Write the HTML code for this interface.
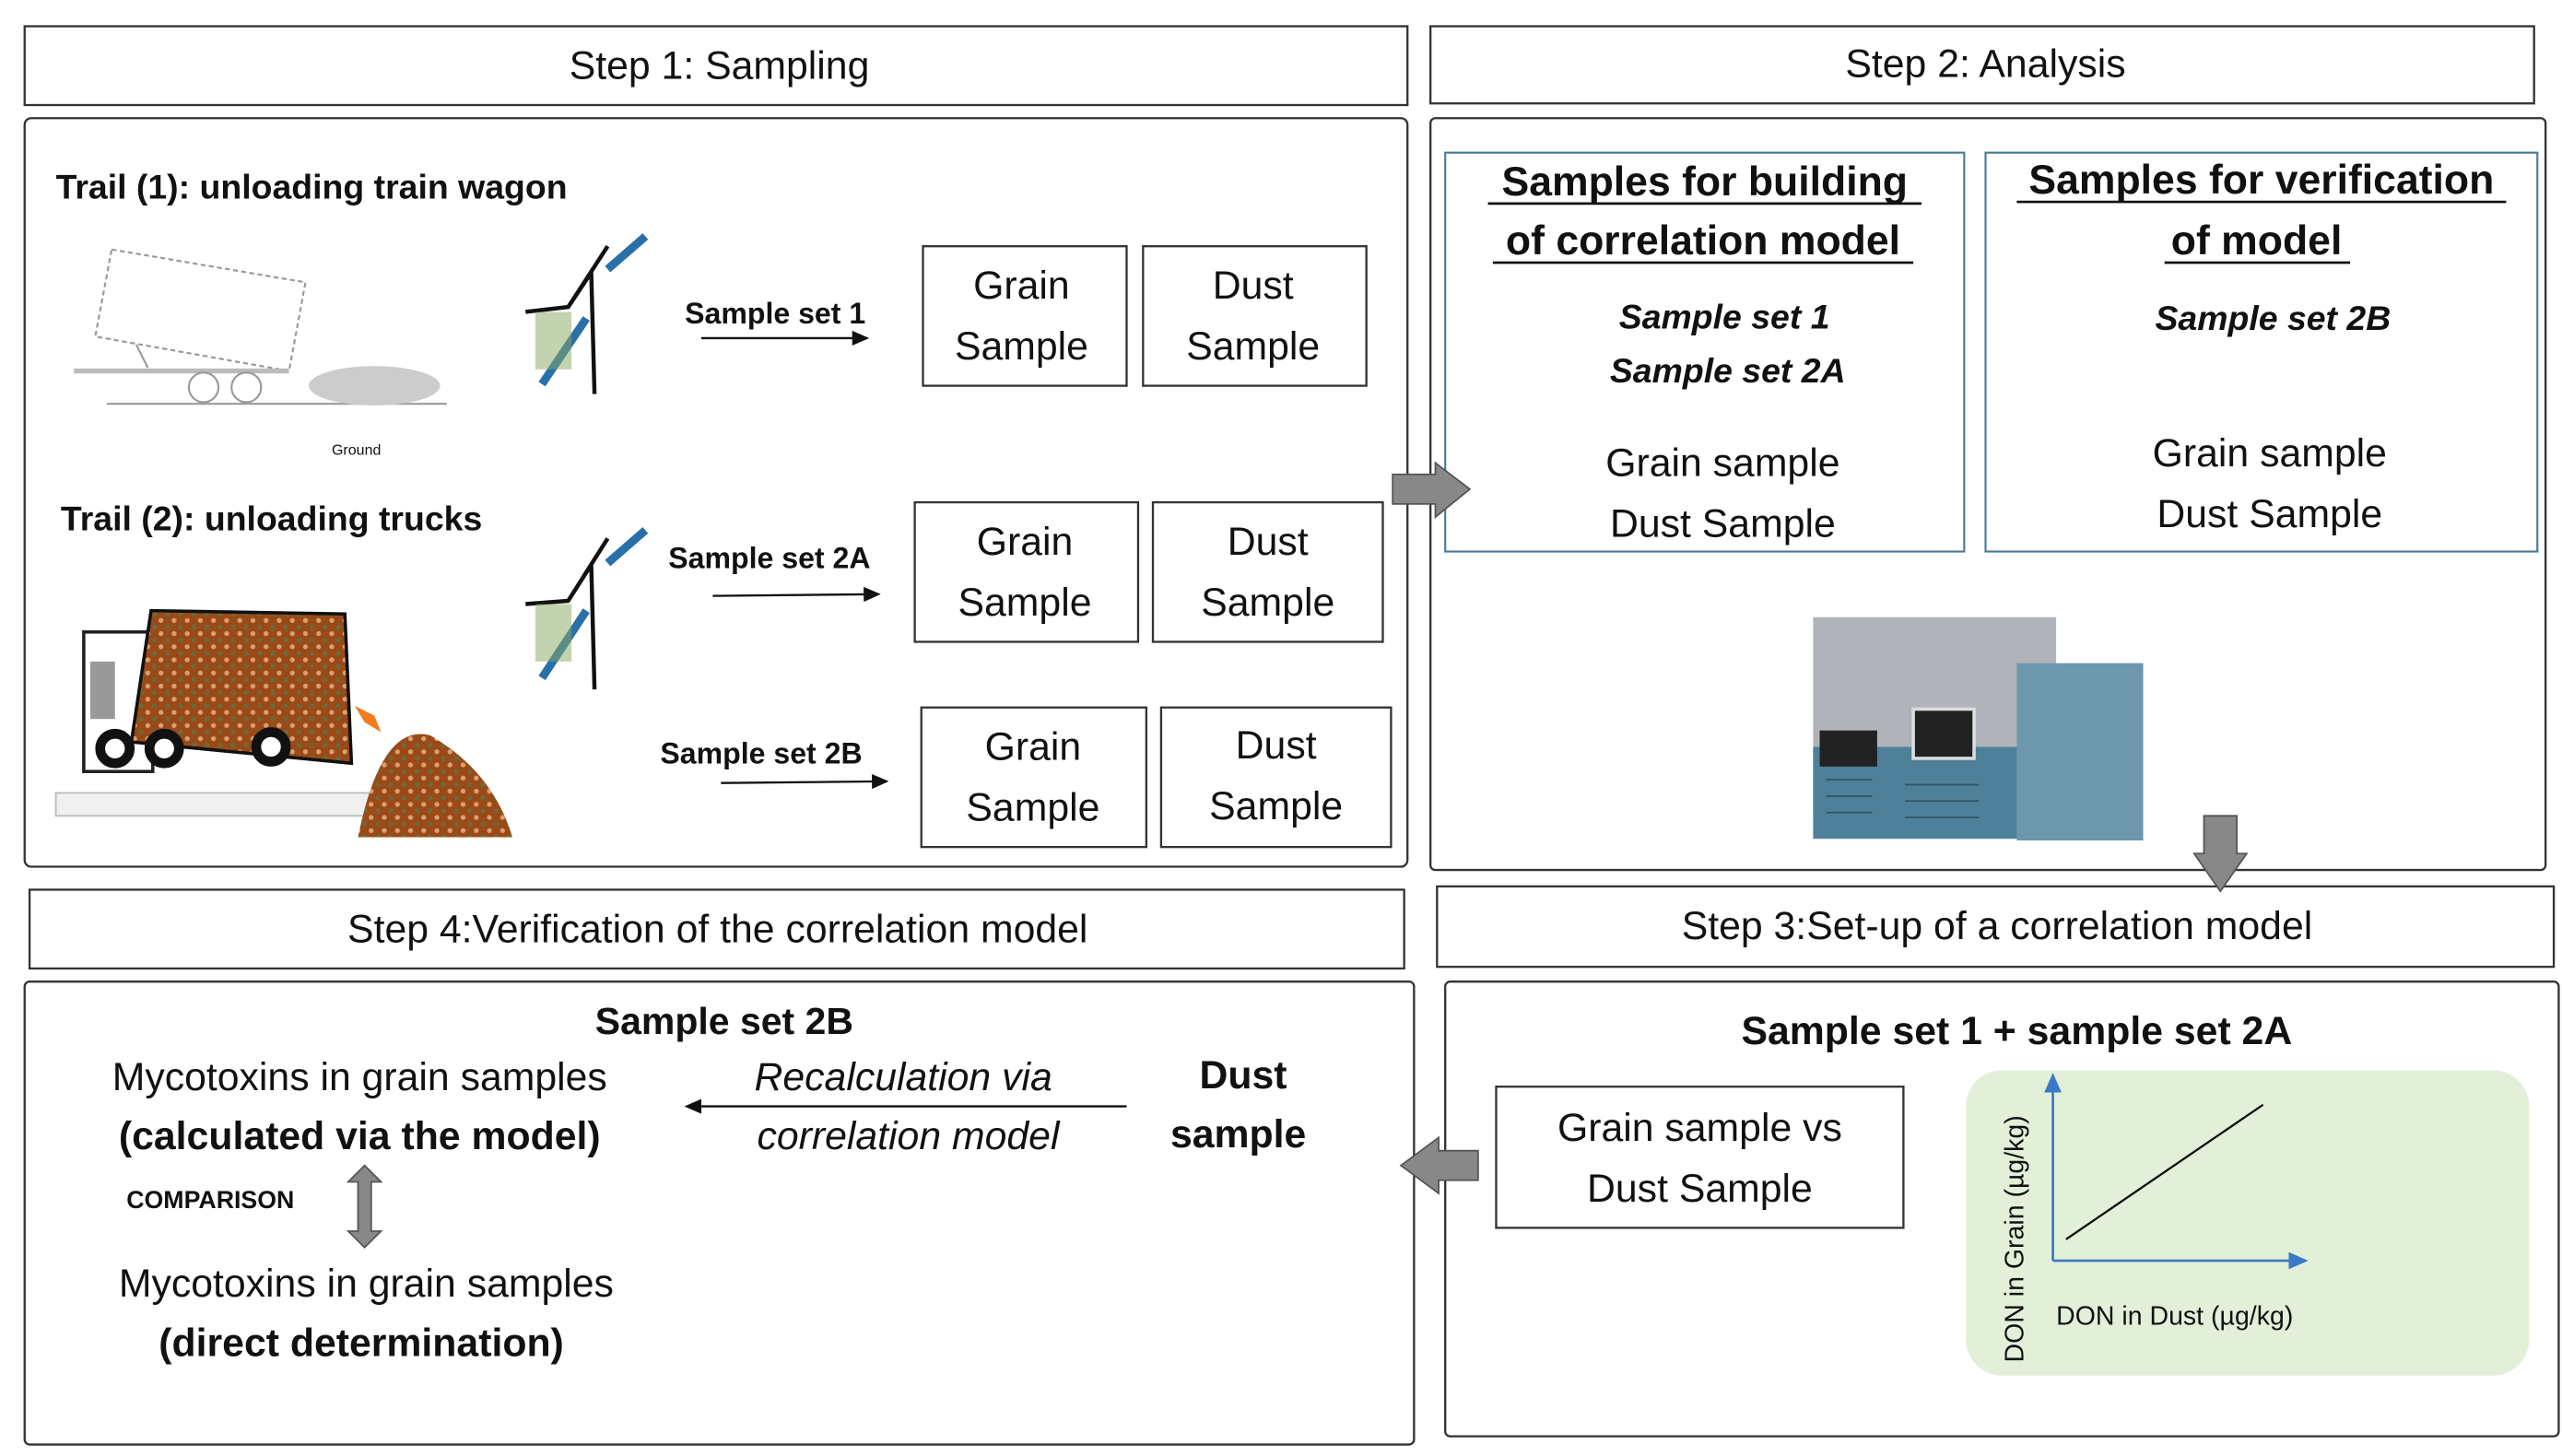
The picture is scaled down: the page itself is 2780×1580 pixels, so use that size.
<!DOCTYPE html>
<html><head><meta charset="utf-8"><style>
html,body{margin:0;padding:0;background:#fff;width:2780px;height:1580px;overflow:hidden}
svg{display:block}
text{font-family:"Liberation Sans",sans-serif;fill:#111}
.h{font-size:24px}
.b{font-weight:bold}
</style></head><body>
<svg width="2780" height="1580" viewBox="0 0 1560 887" preserveAspectRatio="none">
<defs>
<marker id="ah" markerWidth="8" markerHeight="8" refX="7" refY="4" orient="auto"><path d="M0,0.5 L8,4 L0,7.5z" fill="#111"/></marker>
<marker id="ab" markerWidth="8" markerHeight="8" refX="7" refY="4" orient="auto"><path d="M0,0.5 L8,4 L0,7.5z" fill="#3a78c8"/></marker>
<pattern id="gr" width="8" height="8" patternUnits="userSpaceOnUse"><rect width="8" height="8" fill="#9a4a18"/><circle cx="2" cy="2" r="1.5" fill="#d9a070"/><circle cx="6" cy="6" r="1.5" fill="#6b6b3a"/></pattern>
</defs>
<g fill="none" stroke="#333" stroke-width="1.3">
<rect x="15" y="16" width="842" height="48"/>
<rect x="871" y="16" width="672" height="47"/>
<rect x="15" y="72" width="842" height="456" rx="4"/>
<rect x="871" y="72" width="679" height="458" rx="3"/>
<rect x="18" y="542" width="837" height="48"/>
<rect x="875" y="540" width="680" height="49"/>
<rect x="15" y="598" width="846" height="282" rx="3"/>
<rect x="880" y="598" width="678" height="277" rx="3"/>
<rect x="562" y="150" width="124" height="85"/>
<rect x="696" y="150" width="136" height="85"/>
<rect x="557" y="306" width="136" height="85"/>
<rect x="702" y="306" width="140" height="85"/>
<rect x="561" y="431" width="137" height="85"/>
<rect x="707" y="431" width="140" height="85"/>
<rect x="911" y="662" width="248" height="86"/>
</g>
<rect x="880" y="93" width="316" height="243" fill="none" stroke="#4a7a96" stroke-width="1.2"/>
<rect x="1209" y="93" width="336" height="243" fill="none" stroke="#4a7a96" stroke-width="1.2"/>
<rect x="1197" y="652" width="343" height="186" rx="22" fill="#e2f0d9"/>

<text class="h" x="438" y="48" text-anchor="middle">Step 1: Sampling</text>
<text class="h" x="1209" y="47" text-anchor="middle">Step 2: Analysis</text>
<text class="h" x="437" y="574" text-anchor="middle">Step 4:Verification of the correlation model</text>
<text class="h" x="1216" y="572" text-anchor="middle">Step 3:Set-up of  a correlation model</text>

<text class="b" x="34" y="121" font-size="21">Trail (1):  unloading  train  wagon</text>
<text class="b" x="37" y="323" font-size="21">Trail (2): unloading  trucks</text>
<text class="b" x="417" y="197" font-size="18">Sample set  1</text>
<text class="b" x="407" y="346" font-size="18">Sample set 2A</text>
<text class="b" x="402" y="465" font-size="18">Sample set 2B</text>
<g stroke="#111" stroke-width="1.3">
<line x1="427" y1="206" x2="528" y2="206" marker-end="url(#ah)"/>
<line x1="434" y1="363" x2="535" y2="362" marker-end="url(#ah)"/>
<line x1="439" y1="477" x2="540" y2="476" marker-end="url(#ah)"/>
<line x1="686" y1="674" x2="418" y2="674" marker-end="url(#ah)"/>
</g>
<g class="h" text-anchor="middle">
<text x="622" y="182">Grain</text><text x="622" y="219">Sample</text>
<text x="763" y="182">Dust</text><text x="763" y="219">Sample</text>
<text x="624" y="338">Grain</text><text x="624" y="375">Sample</text>
<text x="772" y="338">Dust</text><text x="772" y="375">Sample</text>
<text x="629" y="463">Grain</text><text x="629" y="500">Sample</text>
<text x="777" y="462">Dust</text><text x="777" y="499">Sample</text>
</g>

<!-- train wagon sketch -->
<g stroke="#999" stroke-width="1.2" fill="none">
<polygon points="68,152 186,172 176,226 58,205" stroke-dasharray="3,2"/>
<line x1="45" y1="226" x2="176" y2="226" stroke-width="3" stroke="#bbb"/>
<line x1="65" y1="246" x2="272" y2="246"/>
<circle cx="124" cy="236" r="9"/><circle cx="150" cy="236" r="9"/>
<line x1="90" y1="224" x2="83" y2="210"/>
</g>
<g fill="#999"><ellipse cx="228" cy="235" rx="40" ry="12" fill="#ccc"/></g>
<text x="202" y="277" font-size="9" fill="#aaa">Ground</text>
<!-- samplers -->
<g stroke="#111" stroke-width="2.5" fill="none">
<path d="M320,190 L346,187 L370,150 M346,187 L360,166 L362,240"/>
<path d="M320,368 L346,366 L370,328 M346,366 L360,344 L362,420"/>
</g>
<g stroke="#2a70a8" stroke-width="5"><line x1="330" y1="234" x2="357" y2="194"/><line x1="330" y1="413" x2="357" y2="372"/><line x1="370" y1="164" x2="393" y2="144"/><line x1="370" y1="343" x2="393" y2="323"/></g>
<rect x="326" y="190" width="22" height="35" fill="#8aa860" opacity="0.5"/>
<rect x="326" y="368" width="22" height="35" fill="#8aa860" opacity="0.5"/>
<!-- truck -->
<polygon points="34,483 250,483 270,458 270,470 250,497 34,497" fill="#f0f0f0" stroke="#bbb"/>
<rect x="51" y="385" width="42" height="85" fill="#fff" stroke="#222" stroke-width="2"/>
<rect x="55" y="403" width="15" height="35" fill="#999"/>
<polygon points="92,372 210,374 214,465 80,452" fill="url(#gr)" stroke="#111" stroke-width="2"/>
<g fill="#fff" stroke="#111" stroke-width="6"><circle cx="70" cy="456" r="9"/><circle cx="100" cy="456" r="9"/><circle cx="165" cy="455" r="9"/></g>
<polygon points="216,430 228,436 232,446 222,440" fill="#f07d20"/>
<path d="M218,510 Q232,440 262,448 Q300,470 312,510z" fill="url(#gr)"/>

<!-- step 2 -->
<g class="b" font-size="25" text-anchor="middle">
<text x="1038" y="119">Samples for  building</text>
<text x="1037" y="155">of correlation model</text>
<text x="1377" y="118">Samples for verification</text>
<text x="1374" y="155">of model</text>
</g>
<g stroke="#111" stroke-width="1.5"><line x1="906" y1="124" x2="1170" y2="124"/><line x1="909" y1="160" x2="1165" y2="160"/><line x1="1228" y1="123" x2="1526" y2="123"/><line x1="1318" y1="160" x2="1431" y2="160"/></g>
<g class="b" font-size="21" font-style="italic" text-anchor="middle">
<text x="1050" y="200">Sample set 1</text>
<text x="1052" y="233">Sample  set 2A</text>
<text x="1384" y="201">Sample set 2B</text>
</g>
<g class="h" text-anchor="middle">
<text x="1049" y="290">Grain sample</text><text x="1049" y="327">Dust Sample</text>
<text x="1382" y="284">Grain sample</text><text x="1382" y="321">Dust Sample</text>
</g>
<!-- instrument -->
<rect x="1104" y="376" width="148" height="120" fill="#b0b4b8"/>
<rect x="1104" y="455" width="148" height="56" fill="#4f8099"/>
<rect x="1228" y="404" width="77" height="108" fill="#6d97ad"/>
<rect x="1108" y="445" width="35" height="22" fill="#222"/>
<rect x="1165" y="432" width="37" height="30" fill="#222" stroke="#ddd" stroke-width="2"/>
<g stroke="#2d5568" stroke-width="1"><line x1="1112" y1="475" x2="1140" y2="475"/><line x1="1112" y1="485" x2="1140" y2="485"/><line x1="1112" y1="495" x2="1140" y2="495"/><line x1="1160" y1="478" x2="1205" y2="478"/><line x1="1160" y1="488" x2="1205" y2="488"/><line x1="1160" y1="498" x2="1205" y2="498"/></g>

<!-- block arrows -->
<polygon points="848,289 874,289 874,282 895,298 874,315 874,307 848,307" fill="#888" stroke="#555"/>
<polygon points="1342,497 1362,497 1362,520 1368,520 1352,543 1336,520 1342,520" fill="#888" stroke="#555"/>
<polygon points="900,701 876,701 876,693 853,710 876,727 876,719 900,719" fill="#888" stroke="#555"/>

<!-- step 3 -->
<text class="b" x="1228" y="636" font-size="24" text-anchor="middle">Sample set 1 + sample set 2A</text>
<text class="h" x="1035" y="695" text-anchor="middle">Grain sample vs</text>
<text class="h" x="1035" y="732" text-anchor="middle">Dust Sample</text>
<g stroke="#3a78c8" stroke-width="1.5"><line x1="1250" y1="768" x2="1250" y2="655" marker-end="url(#ab)"/><line x1="1250" y1="768" x2="1404" y2="768" marker-end="url(#ab)"/></g>
<line x1="1258" y1="755" x2="1378" y2="673" stroke="#111" stroke-width="1.3"/>
<text x="1252" y="807" font-size="16">DON in Dust (µg/kg)</text>
<text transform="translate(1232,830) rotate(-90)" font-size="16">DON in Grain (µg/kg)</text>

<!-- step 4 -->
<text class="b" x="441" y="630" font-size="23" text-anchor="middle">Sample set 2B</text>
<text class="h" x="219" y="664" text-anchor="middle">Mycotoxins  in grain samples</text>
<text class="b" x="219" y="700" font-size="24" text-anchor="middle">(calculated via the model)</text>
<text x="550" y="664" font-size="24" font-style="italic" text-anchor="middle">Recalculation via</text>
<text x="553" y="700" font-size="24" font-style="italic" text-anchor="middle">correlation model</text>
<text class="b" x="757" y="663" font-size="24" text-anchor="middle">Dust</text>
<text class="b" x="754" y="699" font-size="24" text-anchor="middle">sample</text>
<text class="b" x="77" y="736" font-size="15">COMPARISON</text>
<polygon points="222,710 232,720 226,720 226,750 232,750 222,760 212,750 218,750 218,720 212,720" fill="#888" stroke="#555"/>
<text class="h" x="223" y="790" text-anchor="middle">Mycotoxins in grain samples</text>
<text class="b" x="220" y="826" font-size="24" text-anchor="middle">(direct determination)</text>
</svg>
</body></html>
